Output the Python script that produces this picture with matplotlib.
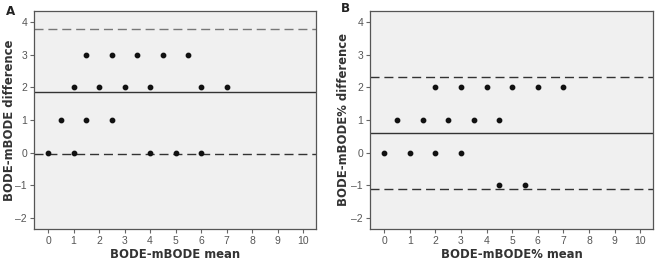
import matplotlib.pyplot as plt

# panel A: BODE vs mBODE
a_mean = [0, 0.5, 1, 1, 1.5, 1.5, 2, 2.5, 2.5, 3, 3.5, 4, 4, 4.5, 5, 5.5, 6, 6, 7]
a_diff = [0, 1, 2, 0, 3, 1, 2, 3, 1, 2, 3, 2, 0, 3, 0, 3, 2, 0, 2]
a_bias = 1.87
a_limits = [3.77, -0.03]

# panel B: BODE vs mBODE%
b_mean = [0, 0.5, 1, 1.5, 2, 2, 2.5, 3, 3, 3.5, 4, 4.5, 4.5, 5, 5.5, 6, 7]
b_diff = [0, 1, 0, 1, 2, 0, 1, 2, 0, 1, 2, 1, -1, 2, -1, 2, 2]
b_bias = 0.59
b_limits = [2.31, -1.12]

x_ticks = list(range(0, 11))
y_ticks = [-2, -1, 0, 1, 2, 3, 4]

label_font = dict(family="DejaVu Sans", fontsize=8.4, fontweight="bold", color="#333333")


def draw_panel(ax, x, y, bias, limits, xlabel, ylabel, limit_colors, ylab_x):
    ax.set_facecolor("#f0f0f0")
    ax.scatter(x, y, s=10, color="#111111", zorder=3)
    ax.axhline(bias, color="#333333", lw=1.0)
    for val, c in zip(limits, limit_colors):
        ax.axhline(val, color=c, lw=1.0, ls=(0, (6.5, 3.5)))
    ax.set_xlim(-0.55, 10.5)
    ax.set_ylim(-2.33, 4.33)
    ax.set_xticks(x_ticks)
    ax.set_yticks(y_ticks)
    ax.set_yticklabels([str(v).replace("-", "\u2013") for v in y_ticks])
    ax.tick_params(labelsize=7.5, colors="#666666", labelcolor="#555555",
                   length=3, pad=2)
    for lab in ax.get_xticklabels() + ax.get_yticklabels():
        lab.set_family("Liberation Sans")
    for s in ax.spines.values():
        s.set_color("#555555")
        s.set_linewidth(0.9)
    ax.set_xlabel(xlabel, **label_font)
    ax.set_ylabel(ylabel, **label_font)
    ax.xaxis.set_label_coords(0.5, -0.089)
    ax.yaxis.set_label_coords(ylab_x, 0.5)


fig = plt.figure(figsize=(6.58, 2.63), dpi=100)
ax1 = fig.add_axes([34 / 658, 34 / 263, 282 / 658, 218 / 263])
ax2 = fig.add_axes([370 / 658, 34 / 263, 283 / 658, 218 / 263])

draw_panel(ax1, a_mean, a_diff, a_bias, a_limits, "BODE-mBODE mean",
           "BODE-mBODE difference", ["#777777", "#333333"], -0.065)
draw_panel(ax2, b_mean, b_diff, b_bias, b_limits, "BODE-mBODE% mean",
           "BODE-mBODE% difference", ["#333333", "#333333"], -0.072)

fig.text(6 / 658, 1 - 11.7 / 263, "A", ha="left", va="center",
         family="DejaVu Sans", fontsize=8.6, fontweight="bold", color="#222222")
fig.text(341 / 658, 1 - 8.7 / 263, "B", ha="left", va="center",
         family="DejaVu Sans", fontsize=8.6, fontweight="bold", color="#222222")

fig.savefig("out.png", dpi=100)
